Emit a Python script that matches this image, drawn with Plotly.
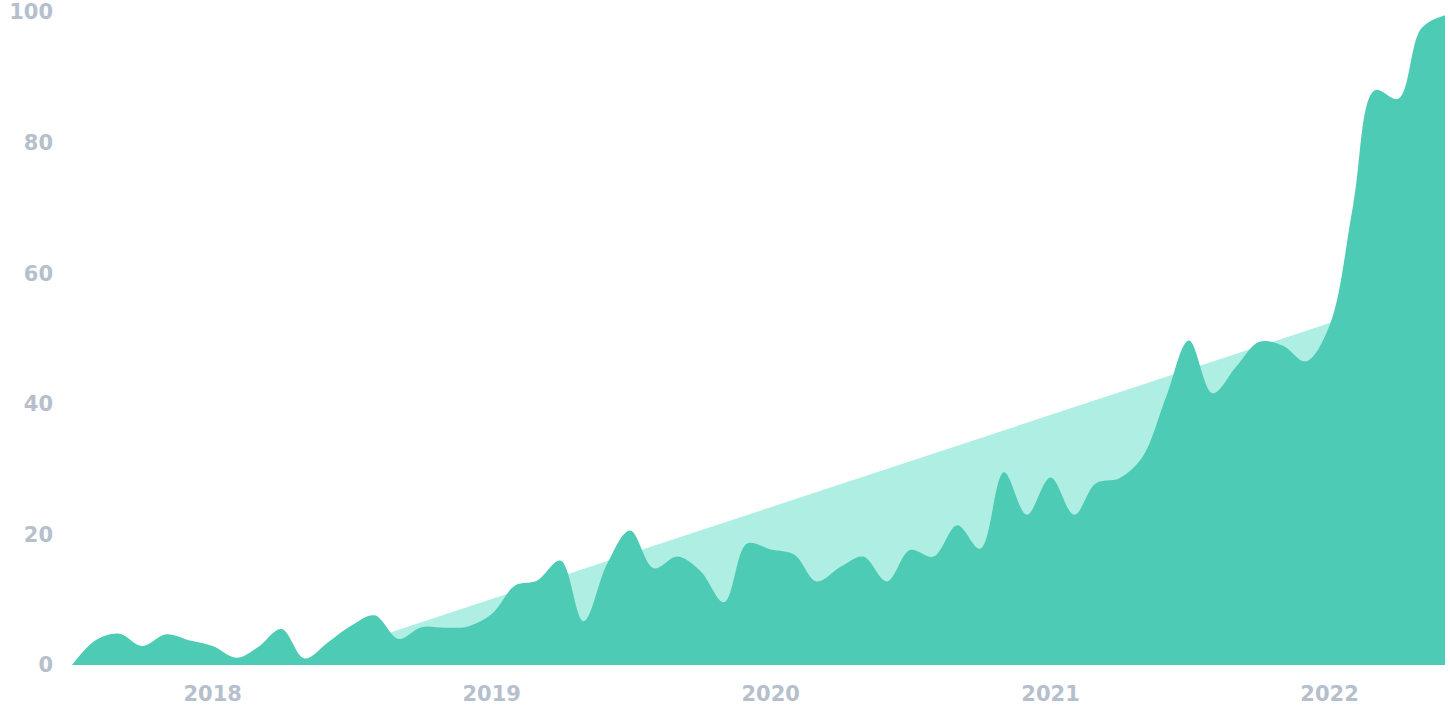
import plotly.graph_objects as go
import pandas as pd

# Monthly values, Jul 2017 .. Jun 2022
months = pd.date_range("2017-07-01", "2022-06-01", freq="MS")
values = [
    0.0, 3.8, 4.8, 2.9, 4.7, 3.8, 2.9, 1.1, 2.7, 5.5,
    1.0, 3.5, 6.0, 7.6, 4.0, 5.8, 5.7, 5.9, 7.8, 12.2,
    12.9, 16.0, 6.7, 15.5, 20.6, 14.8, 16.6, 14.4, 9.6, 18.6,
    17.7, 16.9, 12.8, 15.0, 16.6, 12.8, 17.6, 16.6, 21.4, 17.8,
    29.5, 23.0, 28.7, 23.0, 27.8, 28.6, 31.8, 41.0, 49.7, 41.6,
    45.7, 49.5, 48.9, 46.5, 52.0, 70.5, 88.0, 86.7, 97.5, 99.5,
]

# Linear trend (start / end values)
trend_dates = ["2017-07-01", "2022-06-01"]
trend_values = [-11.1, 58.2]

x_range = ["2017-07-01", "2022-06-01"]
y_ticks = [0, 20, 40, 60, 80, 100]
x_ticks = ["2018-01-01", "2019-01-01", "2020-01-01", "2021-01-01", "2022-01-01"]
x_ticklabels = ["2018", "2019", "2020", "2021", "2022"]

fig = go.Figure()
fig.add_trace(go.Scatter(
    x=trend_dates, y=trend_values, mode="lines",
    line=dict(width=0, color="#aeeee3"),
    fill="tozeroy", fillcolor="#aeeee3", hoverinfo="skip",
))
fig.add_trace(go.Scatter(
    x=months, y=values, mode="lines",
    line=dict(width=0, shape="spline", smoothing=1.0, color="#4ecbb4"),
    fill="tozeroy", fillcolor="#4ecbb4",
))

tick_font = dict(family="DejaVu Sans", size=21, color="#b5c0cc", weight=700)
fig.update_layout(
    width=1450, height=725,
    margin=dict(l=72, r=5, t=12, b=60, autoexpand=False),
    paper_bgcolor="white", plot_bgcolor="white",
    showlegend=False,
    xaxis=dict(
        type="date", range=x_range, tickvals=x_ticks, ticktext=x_ticklabels,
        showgrid=False, zeroline=False, showline=False, ticks="",
        tickfont=tick_font, ticklabelstandoff=14, automargin=False,
    ),
    yaxis=dict(
        range=[0, 100], tickvals=y_ticks, showgrid=False, zeroline=False,
        showline=False, ticks="", tickfont=tick_font, ticklabelstandoff=18,
        automargin=False,
    ),
)
fig.write_html(
    "out.html",
    config={"displayModeBar": False},
    post_script="document.body.style.margin='0';",
)
